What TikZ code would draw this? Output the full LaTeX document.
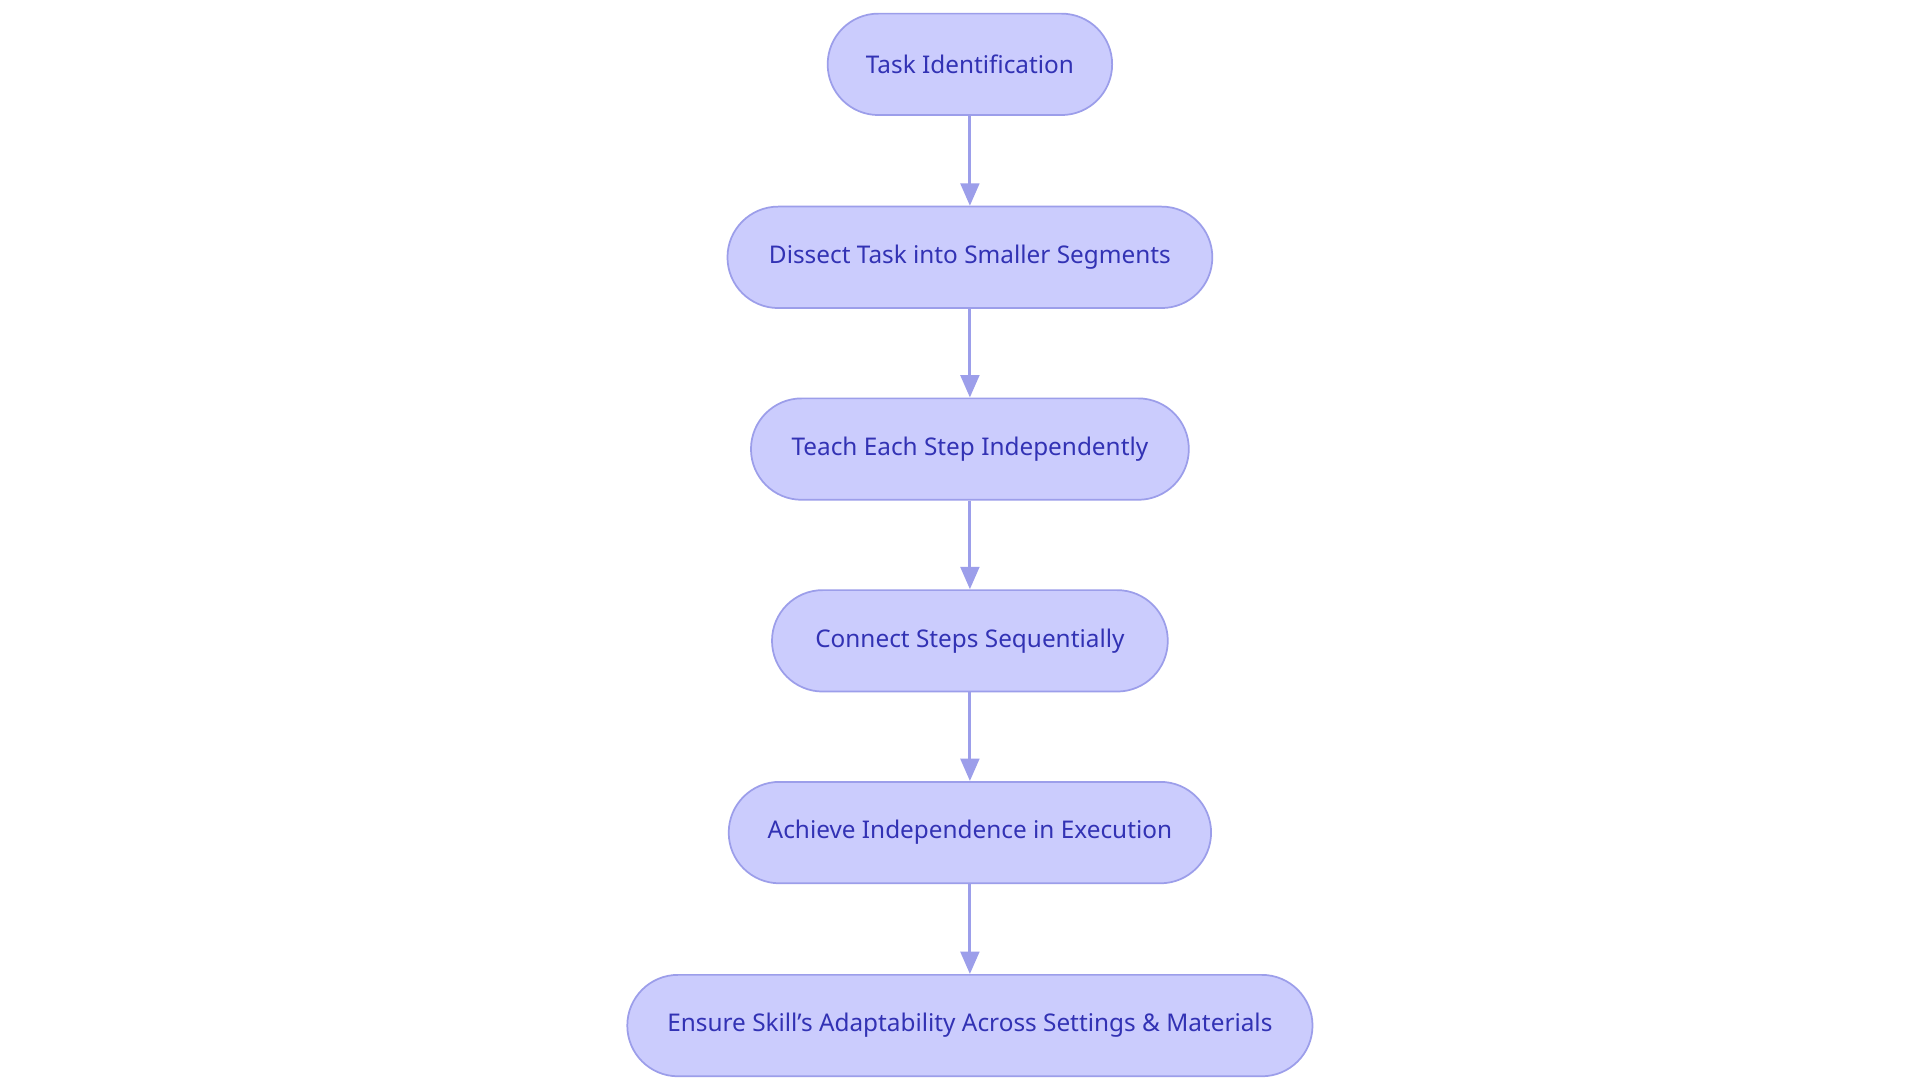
\documentclass[tikz,border=0pt]{standalone}
\usepackage{fontspec}
\setmainfont{Noto Sans}
\usetikzlibrary{arrows.meta}
\definecolor{nfill}{HTML}{CBCCFD}
\definecolor{ndraw}{HTML}{9C9EEA}
\definecolor{ntext}{HTML}{3232B4}
\begin{document}
\begin{tikzpicture}[x=0.02cm,y=-0.02cm,
  box/.style={draw=ndraw,fill=nfill,line width=0.8pt,rounded corners=0.82cm,minimum height=1.64cm,inner sep=0pt,text=ntext,font=\fontsize{11.2pt}{13pt}\selectfont},
  arr/.style={draw=ndraw,line width=1.4pt,-{Triangle[length=0.36cm,width=0.3cm]}}]
\useasboundingbox (0,0) rectangle (1552,880);
\fill[white] (0,0) rectangle (1552,880);
\node[box,minimum width=4.6cm] (a) at (784,52) {Task Identification};
\node[box,minimum width=7.84cm] (b) at (784,208) {Dissect Task into Smaller Segments};
\node[box,minimum width=7.08cm] (c) at (784,363) {Teach Each Step Independently};
\node[box,minimum width=6.4cm] (d) at (784,518) {Connect Steps Sequentially};
\node[box,minimum width=7.8cm] (e) at (784,673) {Achieve Independence in Execution};
\node[box,minimum width=11.08cm] (f) at (784,829) {Ensure Skill\char"27 s Adaptability Across Settings \& Materials};
\draw[arr] (a) -- (b);
\draw[arr] (b) -- (c);
\draw[arr] (c) -- (d);
\draw[arr] (d) -- (e);
\draw[arr] (e) -- (f);
\end{tikzpicture}
\end{document}
